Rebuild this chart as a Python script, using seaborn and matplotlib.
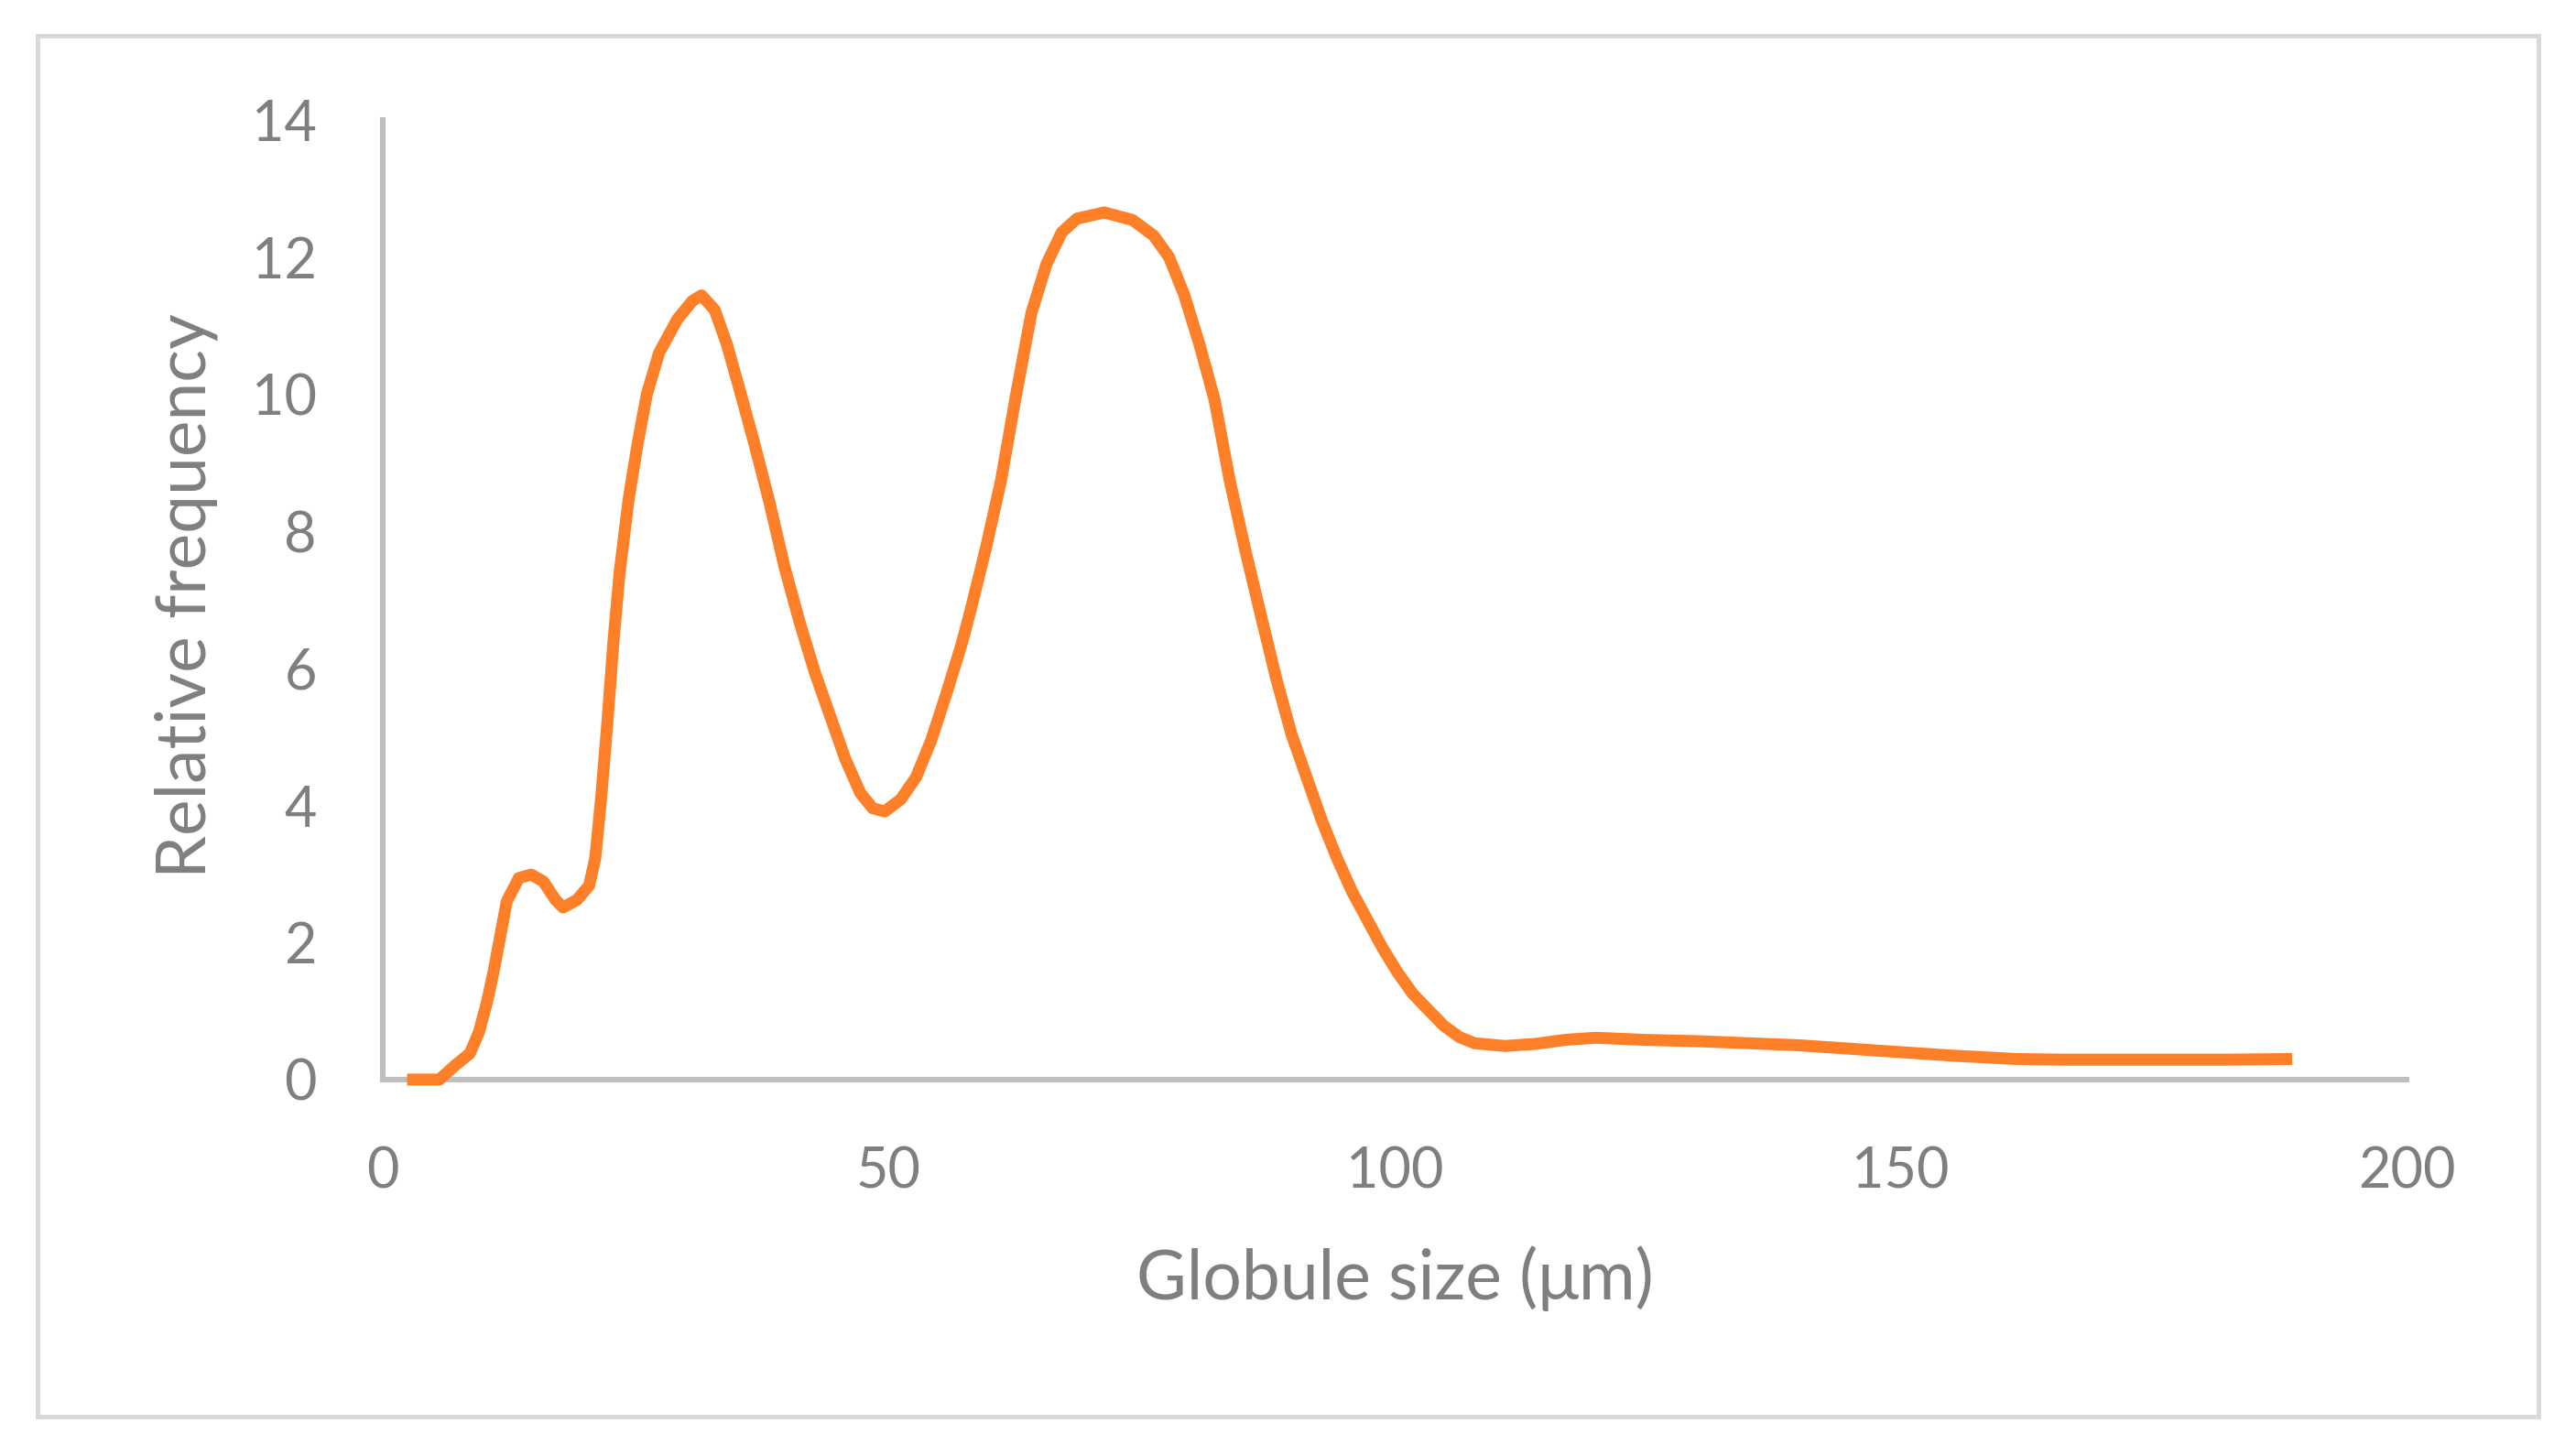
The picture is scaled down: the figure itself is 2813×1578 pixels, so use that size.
import matplotlib
matplotlib.use("Agg")
import matplotlib.pyplot as plt
import matplotlib.patches as patches
import seaborn as sns

# ================
# Data
# ================
globule_size = [2.4, 5.6, 7.1, 8.6, 9.5, 10.3, 11.0, 12.25, 13.45, 14.66, 15.87, 17.07,
                17.82, 19.18, 20.39, 21.0, 21.6, 22.2, 22.8, 23.4, 24.3, 25.2, 26.1, 27.3,
                29.1, 30.6, 31.5, 32.8, 34.0, 35.2, 36.7, 38.2, 39.7, 41.2, 42.7, 44.2,
                45.7, 47.2, 48.4, 49.6, 51.2, 52.7, 54.2, 55.7, 57.2, 58.1, 59.6, 61.1,
                62.6, 64.1, 65.6, 67.1, 68.6, 71.3, 74.1, 76.2, 77.7, 79.2, 80.7, 82.2,
                83.7, 85.2, 86.8, 88.3, 89.8, 91.3, 92.8, 94.3, 95.8, 97.3, 98.8, 100.3,
                101.8, 103.3, 104.9, 106.4, 107.9, 110.9, 113.9, 116.9, 119.9, 124.5,
                129.9, 135, 140, 145, 150, 155, 161.4, 166, 170.9, 176, 182, 188.7]
rel_freq = [0, 0, 0.2, 0.38, 0.69, 1.13, 1.61, 2.6, 2.94, 2.99, 2.89, 2.62,
            2.51, 2.62, 2.83, 3.23, 4.14, 5.22, 6.40, 7.39, 8.47, 9.29, 10.0, 10.6,
            11.09, 11.36, 11.44, 11.23, 10.73, 10.1, 9.29, 8.43, 7.48, 6.67, 5.94, 5.31,
            4.68, 4.18, 3.96, 3.91, 4.09, 4.41, 4.95, 5.63, 6.35, 6.85, 7.75, 8.74,
            10.0, 11.18, 11.9, 12.36, 12.56, 12.65, 12.54, 12.31, 12.0, 11.45, 10.73, 9.92,
            8.74, 7.75, 6.76, 5.85, 5.04, 4.41, 3.78, 3.23, 2.74, 2.33, 1.92, 1.56,
            1.25, 1.02, 0.78, 0.62, 0.53, 0.49, 0.52, 0.58, 0.61, 0.58,
            0.56, 0.53, 0.50, 0.45, 0.40, 0.35, 0.30, 0.29, 0.29, 0.29, 0.29, 0.30]

x_ticks = [0, 50, 100, 150, 200]
y_ticks = [0, 2, 4, 6, 8, 10, 12, 14]

# ================
# Style
# ================
sns.set_theme(style="white")
plt.rcParams['font.family'] = ['Lato', 'DejaVu Sans']

GREY_TEXT = "#7f7f7f"
GREY_AXIS = "#bfbfbf"
ORANGE = "#fd7f28"

fig = plt.figure(figsize=(14.065, 7.89), dpi=200)
ax = fig.add_axes([0.1486, 0.2529, 0.7856, 0.6641])

sns.lineplot(x=globule_size, y=rel_freq, sort=False, estimator=None,
             color=ORANGE, linewidth=4.7, ax=ax)
for line in ax.get_lines():
    line.set_solid_capstyle("butt")
    line.set_solid_joinstyle("round")
    line.set_clip_on(False)

ax.set_xlim(0, 200)
ax.set_ylim(0, 14)
ax.set_xticks(x_ticks)
ax.set_yticks(y_ticks)
ax.tick_params(axis="both", length=0, labelsize=22, labelcolor=GREY_TEXT)
ax.tick_params(axis="x", pad=26)
ax.tick_params(axis="y", pad=26)

for side in ["top", "right"]:
    ax.spines[side].set_visible(False)
for side in ["left", "bottom"]:
    ax.spines[side].set_color(GREY_AXIS)
    ax.spines[side].set_linewidth(2.2)
    ax.spines[side].set_zorder(1)

ax.set_xlabel("Globule size (μm)", fontsize=27, color=GREY_TEXT)
ax.set_ylabel("Relative frequency", fontsize=27, color=GREY_TEXT)
ax.xaxis.set_label_coords(0.5, -0.207)
ax.xaxis.label.set_va("center")
ax.yaxis.set_label_coords(-0.0973, 0.504)
ax.yaxis.label.set_va("center")

# light outer frame around the whole chart
frame = patches.Rectangle((0.0146, 0.0196), 0.9709, 0.9556, transform=fig.transFigure,
                          fill=False, edgecolor="#d9d9d9", linewidth=1.8)
fig.patches.append(frame)

fig.savefig("out.png", dpi=200, facecolor="white")
